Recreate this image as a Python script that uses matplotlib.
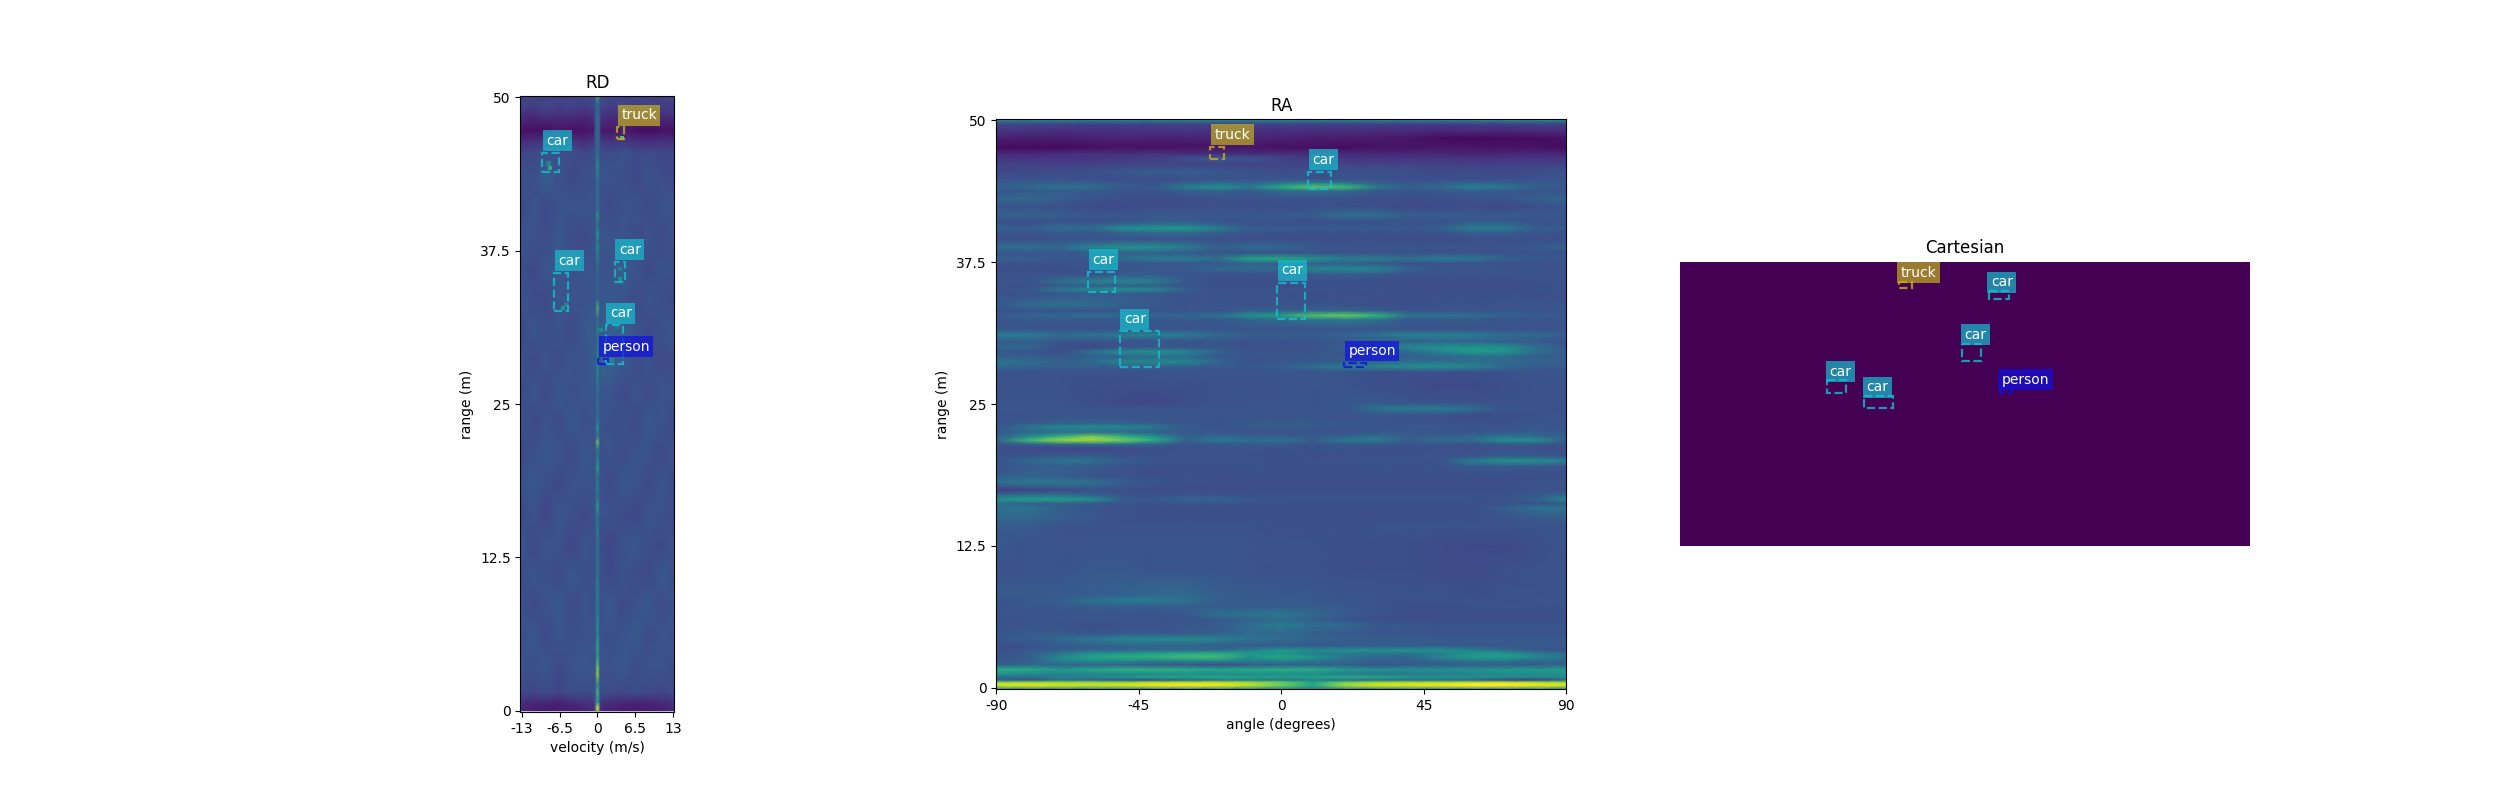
import numpy as np
import matplotlib
matplotlib.use('Agg')
import matplotlib.pyplot as plt
from matplotlib.patches import Rectangle

# colours of the classes
class_colors = {'car': '#17becf', 'truck': '#c4b01e', 'person': '#1010e0'}

# ---- RD view (levels in percent of the colour scale)
rd_velocity = [-13.2, -11, -8.8, -6.6, -4.4, -2.2, 0, 2.2, 4.4, 6.6, 8.8, 11, 13.2]
rd_range = [0, 0.6, 1.5, 3.5, 6, 8.5, 11, 13.5, 16, 18.5, 21, 23.5, 26,
            28.5, 31, 33.5, 36, 38.5, 41, 43.5, 45.5, 46.5, 47.3, 48.5, 49.3, 50.1]
rd_background = [
    [12, 8, 6, 8, 7, 10, 12, 9, 7, 8, 7, 8, 12],
    [14, 10, 11, 9, 12, 14, 15, 12, 11, 9, 10, 11, 14],
    [23, 21, 23, 20, 24, 23, 24, 23, 21, 24, 22, 21, 23],
    [26, 24, 27, 22, 25, 27, 25, 25, 27, 23, 26, 25, 24],
    [24, 27, 22, 26, 24, 25, 26, 24, 26, 28, 23, 26, 25],
    [26, 22, 25, 28, 22, 26, 24, 27, 22, 25, 27, 23, 26],
    [23, 26, 24, 22, 27, 24, 25, 22, 26, 23, 22, 27, 24],
    [27, 22, 26, 25, 21, 26, 24, 21, 25, 27, 24, 22, 26],
    [22, 25, 21, 27, 24, 22, 25, 25, 23, 21, 26, 25, 22],
    [25, 27, 24, 22, 26, 25, 26, 22, 27, 25, 22, 26, 23],
    [22, 24, 27, 25, 22, 27, 24, 26, 23, 26, 25, 22, 26],
    [26, 22, 25, 23, 27, 24, 26, 24, 25, 22, 27, 25, 22],
    [23, 26, 22, 27, 24, 26, 27, 26, 22, 26, 23, 26, 25],
    [25, 22, 26, 23, 26, 25, 31, 31, 28, 23, 25, 22, 24],
    [22, 26, 24, 25, 22, 27, 29, 29, 30, 26, 22, 25, 26],
    [26, 23, 22, 26, 26, 25, 27, 27, 25, 23, 26, 24, 22],
    [24, 22, 26, 28, 25, 26, 26, 25, 29, 26, 22, 25, 24],
    [26, 25, 23, 27, 23, 22, 26, 26, 25, 23, 26, 22, 25],
    [22, 26, 22, 25, 26, 25, 25, 22, 26, 25, 22, 25, 26],
    [25, 23, 29, 25, 22, 24, 26, 25, 24, 22, 26, 23, 22],
    [21, 22, 25, 23, 24, 21, 24, 23, 25, 22, 23, 21, 22],
    [12, 13, 14, 13, 15, 12, 16, 14, 15, 13, 12, 13, 12],
    [4, 5, 3, 6, 4, 5, 8, 6, 7, 4, 3, 5, 4],
    [14, 12, 15, 13, 14, 12, 16, 13, 15, 12, 14, 13, 15],
    [20, 18, 21, 19, 21, 18, 22, 19, 21, 18, 20, 19, 18],
    [19, 21, 18, 20, 19, 21, 23, 20, 18, 21, 19, 18, 20],
]
rd_line_range = [0, 0.3, 0.7, 1.1, 1.5, 2.1, 2.9, 3.7, 4.5, 5.4, 6.2, 6.9, 8, 9.1, 10.7,
                 12.4, 13.4, 14.8, 15.8, 16.7, 17.4, 18.2, 19, 19.8, 20.8, 21.4, 21.9,
                 22.4, 23, 23.7, 24.6, 25.6, 27, 28.6, 30, 31, 32, 32.8, 33.5, 35, 36.5,
                 37.8, 38.3, 38.8, 39.6, 40.4, 41, 41.6, 43, 44.3, 45.5, 47, 48.5, 49.5, 50.1]
rd_line_level = [86, 100, 60, 62, 72, 50, 84, 76, 56, 64, 48, 54, 44, 46, 44,
                 38, 36, 46, 38, 60, 38, 50, 36, 60, 38, 46, 78,
                 38, 58, 36, 40, 34, 44, 50, 36, 48, 34, 70, 34, 32, 36,
                 54, 38, 60, 36, 56, 34, 40, 34, 54, 36, 34, 36, 34, 68]
rd_spot_velocity = [-8.2, -5.9, 3.85, 3.85, 4.27, 2.4, 0.6, 3.4, -8.4, -5.4]
rd_spot_range = [44.2, 32.8, 35.2, 36.0, 46.7, 28.6, 31.0, 31.3, 44.6, 33.1]
rd_spot_level = [62, 54, 50, 42, 70, 44, 46, 36, 44, 44]

rd_x0 = [3.35, -9.5, -7.4, 2.95, 1.4, 0.14]
rd_x1 = [4.5, -6.67, -5.1, 4.78, 4.44, 1.86]
rd_y0 = [46.6, 43.87, 32.57, 34.96, 28.27, 28.24]
rd_y1 = [47.56, 45.45, 35.7, 36.6, 31.4, 28.66]
rd_names = ['truck', 'car', 'car', 'car', 'car', 'person']

# ---- RA view
ra_angle = [-90, -80, -70, -60, -50, -40, -30, -20, -10, 0, 10, 20, 30, 40, 50, 60, 70, 80, 90]
ra_range = [50.1, 49.9, 49.6, 49.1, 48.4, 47.6, 47.0, 46.65, 46.1, 45.5, 44.8, 44.45, 44.1, 43.75, 43.1,
            42.4, 41.6, 41.1, 40.8, 40.45, 40.1, 39.5, 38.8, 38.3, 37.8, 37.35, 36.9, 36.4,
            35.8, 35.4, 35.1, 34.7, 33.7, 33.2, 32.8, 32.4, 31.6, 31.1, 30.5, 30.0, 29.6, 29.15,
            28.7, 28.3, 27.8, 26.5, 25.1, 24.6, 24.0, 23.3, 23.0, 22.5, 22.1, 21.8, 21.45,
            21.1, 20.4, 20.0, 19.5, 18.6, 18.1, 17.4, 16.95, 16.6, 16.2, 15.9, 15.0, 14.2,
            12.5, 10.5, 8.1, 7.7, 7.2, 6.5, 6.0, 5.5, 4.8, 4.3, 3.7, 3.3, 3.0, 2.7,
            2.3, 2.0, 1.6, 1.2, 0.9, 0.65, 0.5, 0.35, 0.15, -0.1]
ra_level = [
    [62, 62, 62, 62, 62, 62, 62, 62, 62, 62, 62, 62, 62, 62, 62, 64, 66, 66, 66],
    [36, 36, 36, 36, 36, 36, 36, 36, 36, 36, 36, 36, 36, 36, 36, 36, 36, 36, 36],
    [20, 20, 19, 18, 18, 18, 18, 18, 18, 18, 18, 18, 18, 17, 17, 17, 17, 18, 18],
    [16, 15, 14, 14, 15, 15, 16, 15, 15, 14, 14, 14, 13, 13, 12, 13, 12, 13, 14],
    [9, 8, 8, 9, 10, 9, 9, 10, 10, 9, 8, 8, 7, 6, 3, 2, 3, 3, 5],
    [3, 3, 2, 4, 5, 4, 5, 5, 6, 4, 4, 3, 5, 5, 6, 6, 5, 5, 3],
    [12, 12, 14, 15, 14, 16, 14, 14, 13, 14, 13, 13, 12, 12, 12, 10, 11, 12, 11],
    [15, 15, 15, 15, 17, 18, 24, 27, 26, 20, 17, 15, 15, 15, 15, 15, 15, 15, 15],
    [20, 20, 19, 20, 20, 20, 20, 21, 20, 20, 21, 20, 20, 20, 20, 19, 19, 20, 20],
    [21, 22, 23, 24, 27, 29, 29, 27, 25, 23, 26, 24, 24, 24, 22, 23, 22, 23, 25],
    [25, 26, 25, 24, 24, 24, 25, 25, 26, 26, 26, 25, 25, 24, 24, 24, 24, 25, 25],
    [28, 30, 30, 30, 27, 26, 32, 36, 32, 40, 44, 40, 30, 27, 29, 32, 30, 28, 27],
    [31, 33, 38, 36, 28, 28, 42, 50, 40, 62, 74, 68, 40, 30, 34, 44, 40, 30, 28],
    [26, 27, 29, 28, 26, 26, 30, 32, 28, 34, 36, 33, 28, 26, 27, 30, 28, 26, 26],
    [33, 34, 30, 26, 24, 23, 24, 25, 25, 25, 25, 25, 24, 24, 24, 25, 26, 30, 33],
    [26, 25, 24, 23, 22, 23, 24, 24, 24, 23, 24, 24, 24, 22, 22, 23, 22, 24, 26],
    [31, 32, 30, 27, 27, 28, 28, 27, 27, 28, 30, 36, 36, 30, 29, 28, 28, 28, 27],
    [25, 24, 25, 25, 26, 28, 28, 26, 25, 25, 24, 25, 25, 25, 25, 28, 27, 25, 25],
    [27, 26, 30, 29, 34, 38, 38, 32, 26, 26, 26, 26, 26, 26, 27, 34, 33, 27, 26],
    [31, 30, 36, 34, 50, 53, 54, 42, 29, 29, 28, 28, 28, 28, 30, 42, 42, 30, 29],
    [27, 26, 28, 27, 32, 34, 34, 30, 26, 25, 25, 25, 25, 25, 26, 30, 30, 26, 25],
    [24, 24, 25, 25, 25, 25, 25, 25, 24, 24, 24, 24, 24, 23, 23, 24, 24, 24, 24],
    [36, 37, 34, 46, 50, 50, 42, 30, 34, 33, 28, 26, 26, 26, 27, 26, 26, 28, 32],
    [26, 26, 26, 30, 30, 30, 28, 26, 26, 26, 26, 25, 25, 25, 25, 25, 25, 25, 25],
    [31, 31, 28, 27, 36, 42, 42, 36, 58, 60, 50, 42, 42, 36, 42, 40, 32, 28, 27],
    [25, 25, 25, 25, 26, 27, 27, 27, 32, 30, 30, 30, 28, 25, 25, 25, 25, 25, 25],
    [24, 24, 24, 26, 27, 27, 28, 34, 34, 34, 46, 48, 46, 32, 26, 26, 26, 25, 25],
    [25, 25, 25, 25, 28, 28, 26, 25, 25, 25, 28, 28, 28, 25, 25, 25, 25, 25, 25],
    [26, 26, 36, 44, 46, 42, 28, 24, 24, 25, 25, 25, 24, 24, 24, 24, 24, 25, 25],
    [25, 25, 28, 30, 30, 30, 26, 24, 24, 24, 24, 24, 24, 24, 23, 23, 23, 24, 25],
    [26, 26, 40, 48, 50, 46, 30, 25, 25, 25, 25, 25, 25, 24, 24, 24, 24, 25, 25],
    [25, 25, 27, 28, 29, 27, 26, 25, 25, 25, 24, 24, 24, 24, 24, 24, 24, 24, 24],
    [28, 34, 36, 35, 30, 27, 26, 26, 25, 25, 25, 25, 24, 24, 25, 25, 26, 26, 26],
    [25, 26, 26, 26, 26, 26, 26, 26, 30, 30, 32, 32, 30, 26, 26, 26, 26, 26, 26],
    [30, 32, 34, 36, 34, 32, 34, 36, 50, 56, 72, 76, 66, 38, 38, 36, 32, 30, 28],
    [26, 27, 27, 27, 27, 27, 27, 28, 32, 34, 38, 40, 36, 28, 28, 28, 26, 26, 26],
    [27, 26, 25, 25, 26, 26, 26, 26, 26, 26, 26, 26, 26, 25, 25, 25, 25, 25, 26],
    [42, 42, 36, 38, 42, 44, 42, 34, 30, 30, 30, 32, 36, 44, 44, 42, 36, 34, 30],
    [28, 30, 26, 26, 26, 26, 26, 26, 25, 25, 26, 28, 30, 30, 32, 32, 30, 28, 26],
    [32, 34, 24, 22, 26, 28, 26, 26, 25, 25, 26, 30, 36, 48, 50, 52, 50, 36, 28],
    [28, 26, 24, 36, 48, 50, 46, 32, 26, 26, 26, 28, 32, 34, 46, 54, 52, 36, 30],
    [30, 30, 28, 30, 32, 34, 34, 28, 26, 26, 27, 28, 30, 30, 32, 34, 34, 30, 28],
    [38, 36, 30, 34, 46, 48, 46, 32, 26, 27, 28, 30, 32, 36, 36, 36, 34, 32, 30],
    [34, 32, 30, 30, 30, 30, 30, 28, 28, 30, 36, 42, 46, 50, 50, 46, 34, 30, 28],
    [26, 25, 25, 25, 25, 26, 26, 26, 26, 26, 26, 26, 24, 24, 24, 24, 25, 26, 26],
    [25, 25, 25, 24, 24, 24, 24, 25, 25, 26, 26, 26, 24, 24, 22, 22, 24, 25, 25],
    [26, 26, 26, 24, 22, 21, 24, 25, 26, 26, 26, 27, 28, 26, 25, 25, 25, 25, 25],
    [26, 26, 26, 26, 26, 26, 26, 26, 26, 26, 26, 26, 38, 42, 42, 36, 26, 26, 25],
    [25, 25, 26, 26, 26, 26, 26, 26, 26, 26, 26, 26, 26, 26, 25, 23, 24, 25, 25],
    [26, 28, 30, 30, 30, 28, 26, 26, 28, 28, 28, 27, 27, 26, 25, 26, 25, 26, 26],
    [26, 38, 46, 48, 46, 40, 28, 26, 28, 30, 28, 26, 26, 28, 28, 26, 26, 28, 26],
    [28, 34, 36, 36, 34, 30, 27, 27, 26, 26, 26, 26, 27, 27, 26, 26, 27, 28, 28],
    [30, 48, 66, 80, 66, 52, 32, 34, 30, 30, 28, 32, 36, 30, 30, 34, 40, 36, 30],
    [32, 68, 84, 86, 78, 62, 30, 42, 36, 38, 30, 42, 42, 30, 36, 34, 50, 50, 30],
    [26, 32, 36, 38, 36, 32, 26, 28, 28, 28, 26, 28, 28, 26, 26, 26, 28, 28, 26],
    [24, 22, 20, 20, 22, 24, 25, 25, 25, 25, 25, 25, 24, 24, 25, 24, 25, 24, 24],
    [25, 26, 28, 28, 26, 25, 25, 25, 25, 24, 24, 24, 24, 25, 25, 26, 30, 28, 26],
    [26, 34, 38, 38, 30, 26, 25, 26, 25, 24, 25, 25, 25, 25, 26, 42, 50, 50, 44],
    [26, 28, 30, 28, 26, 24, 24, 24, 25, 24, 24, 24, 25, 24, 25, 28, 28, 27, 26],
    [30, 32, 30, 26, 25, 24, 24, 24, 24, 24, 24, 24, 24, 24, 24, 24, 24, 24, 24],
    [38, 40, 40, 38, 30, 26, 25, 24, 24, 24, 24, 24, 24, 24, 24, 24, 24, 25, 25],
    [18, 20, 22, 24, 24, 24, 23, 23, 24, 24, 24, 24, 24, 24, 24, 24, 24, 25, 25],
    [34, 38, 38, 32, 26, 25, 26, 26, 25, 25, 25, 25, 25, 25, 25, 25, 25, 28, 34],
    [50, 56, 56, 50, 30, 28, 33, 33, 28, 25, 25, 25, 25, 25, 25, 25, 26, 30, 46],
    [36, 30, 30, 28, 26, 26, 26, 26, 25, 24, 24, 24, 24, 24, 24, 24, 24, 26, 28],
    [36, 38, 30, 26, 25, 24, 24, 24, 24, 24, 24, 24, 24, 24, 24, 24, 30, 38, 38],
    [34, 33, 30, 27, 25, 24, 24, 24, 24, 24, 24, 24, 24, 24, 24, 24, 26, 28, 30],
    [28, 28, 26, 25, 25, 25, 25, 25, 25, 24, 24, 24, 25, 25, 25, 25, 25, 25, 26],
    [27, 26, 26, 26, 26, 26, 26, 26, 26, 25, 25, 24, 24, 24, 23, 22, 22, 24, 26],
    [25, 26, 26, 27, 27, 26, 26, 26, 26, 25, 25, 24, 24, 24, 23, 23, 24, 25, 25],
    [28, 28, 28, 30, 32, 34, 34, 30, 28, 28, 27, 26, 26, 25, 25, 24, 25, 25, 26],
    [26, 28, 30, 38, 42, 42, 38, 30, 28, 28, 28, 26, 26, 25, 25, 25, 25, 26, 26],
    [26, 27, 28, 30, 30, 30, 30, 28, 28, 28, 28, 28, 26, 24, 24, 25, 25, 25, 25],
    [26, 26, 26, 26, 26, 26, 28, 36, 38, 40, 34, 28, 26, 24, 24, 24, 24, 24, 25],
    [25, 26, 26, 26, 26, 26, 26, 28, 32, 34, 30, 26, 24, 24, 24, 24, 24, 24, 24],
    [26, 26, 26, 24, 25, 26, 27, 28, 36, 42, 36, 34, 28, 27, 26, 26, 26, 26, 26],
    [26, 28, 28, 26, 28, 28, 28, 30, 34, 34, 30, 28, 26, 26, 26, 26, 26, 26, 26],
    [28, 30, 34, 40, 46, 48, 48, 44, 38, 36, 32, 30, 30, 30, 28, 28, 28, 28, 28],
    [24, 24, 28, 30, 32, 32, 32, 30, 28, 28, 28, 28, 28, 28, 28, 27, 27, 27, 27],
    [24, 28, 30, 32, 32, 34, 34, 34, 42, 54, 48, 50, 50, 52, 50, 44, 34, 28, 26],
    [26, 30, 38, 52, 54, 58, 62, 62, 54, 52, 42, 42, 40, 38, 42, 52, 54, 42, 36],
    [26, 28, 48, 58, 62, 64, 68, 68, 50, 60, 52, 38, 34, 32, 46, 54, 56, 48, 38],
    [28, 30, 42, 46, 44, 40, 42, 42, 40, 42, 38, 34, 30, 30, 32, 36, 36, 32, 30],
    [30, 34, 32, 32, 32, 28, 27, 24, 28, 30, 30, 30, 26, 28, 30, 30, 30, 30, 32],
    [62, 62, 54, 60, 64, 64, 62, 60, 62, 62, 62, 54, 50, 50, 50, 50, 54, 54, 56],
    [50, 48, 44, 46, 46, 48, 50, 48, 48, 50, 48, 42, 40, 40, 42, 44, 48, 48, 50],
    [34, 34, 42, 44, 52, 58, 58, 60, 58, 56, 58, 62, 60, 54, 52, 50, 48, 46, 48],
    [30, 26, 36, 30, 22, 20, 28, 34, 38, 36, 42, 32, 32, 32, 32, 30, 18, 16, 32],
    [74, 76, 78, 78, 76, 80, 82, 84, 80, 74, 56, 72, 78, 80, 80, 82, 82, 80, 78],
    [92, 94, 92, 90, 92, 96, 98, 96, 90, 78, 60, 84, 92, 94, 96, 100, 100, 96, 92],
    [92, 94, 92, 90, 92, 96, 98, 96, 88, 76, 58, 84, 92, 94, 96, 100, 100, 96, 92],
    [50, 50, 48, 48, 50, 50, 50, 50, 48, 46, 42, 46, 48, 50, 50, 50, 50, 50, 50],
]

ra_x0 = [-22.4, 8.5, -61, -1.3, -51, 19.9]
ra_x1 = [-18.1, 15.8, -52.5, 7.6, -38.7, 26.7]
ra_y0 = [46.6, 43.96, 34.85, 32.5, 28.3, 28.3]
ra_y1 = [47.65, 45.45, 36.65, 35.7, 31.4, 28.6]
ra_names = ['truck', 'car', 'car', 'car', 'car', 'person']

# ---- Cartesian view, box corners in image pixels
cart_x0 = [195.9, 277, 252.9, 131.6, 165, 286.6]
cart_x1 = [208.2, 294.8, 270, 148.8, 191, 297.6]
cart_y0 = [17.5, 25.9, 73.2, 106.3, 120.5, 113.8]
cart_y1 = [22.9, 33.4, 89, 118, 131, 117.5]
cart_names = ['truck', 'car', 'car', 'car', 'car', 'person']


def draw_boxes(ax, x0, x1, y_low, y_high, names, top, offset):
    # top is the edge of the box the label sits on, offset in points
    for a, b, c, d, t, name in zip(x0, x1, y_low, y_high, top, names):
        col = class_colors[name]
        ax.add_patch(Rectangle((a, c), b - a, d - c, fill=False, edgecolor=col,
                               ls='--', lw=1.6, alpha=0.8))
        ax.annotate(name, (a, t), xytext=offset, textcoords='offset points',
                    color='white', fontsize=10, va='bottom', ha='left',
                    bbox=dict(facecolor=col, alpha=0.7, edgecolor='none', pad=2.5))


fig, axes = plt.subplots(1, 3, figsize=(25, 8))

# RD
ax = axes[0]
ax.pcolormesh(rd_velocity, rd_range, rd_background, shading='gouraud', cmap='viridis', vmin=0, vmax=100)
side = [25] * len(rd_line_level)
ax.pcolormesh([-0.42, 0, 0.42], rd_line_range, np.column_stack([side, rd_line_level, side]),
              shading='gouraud', cmap='viridis', vmin=0, vmax=100)
ax.scatter(rd_spot_velocity, rd_spot_range, c=rd_spot_level, cmap='viridis', vmin=0, vmax=100,
           s=9, marker='s', linewidths=0)
ax.set_xlim(-13.2, 13.2)
ax.set_ylim(-0.1, 50.1)
ax.set_box_aspect(4)
draw_boxes(ax, rd_x0, rd_x1, rd_y0, rd_y1, rd_names, rd_y1, (3, 3.7))
ax.set_xticks([-13, -6.5, 0, 6.5, 13])
ax.set_xticklabels(['-13', '-6.5', '0', '6.5', '13'])
ax.set_yticks([0, 12.5, 25, 37.5, 50])
ax.set_yticklabels(['0', '12.5', '25', '37.5', '50'])
ax.set_xlabel('velocity (m/s)')
ax.set_ylabel('range (m)')
ax.set_title('RD')

# RA
ax = axes[1]
ax.pcolormesh(ra_angle, ra_range, ra_level, shading='gouraud', cmap='viridis', vmin=0, vmax=100)
ax.set_xlim(-90, 90)
ax.set_ylim(-0.1, 50.1)
ax.set_box_aspect(1)
draw_boxes(ax, ra_x0, ra_x1, ra_y0, ra_y1, ra_names, ra_y1, (3, 3.7))
ax.set_xticks([-90, -45, 0, 45, 90])
ax.set_xticklabels(['-90', '-45', '0', '45', '90'])
ax.set_yticks([0, 12.5, 25, 37.5, 50])
ax.set_yticklabels(['0', '12.5', '25', '37.5', '50'])
ax.set_xlabel('angle (degrees)')
ax.set_ylabel('range (m)')
ax.set_title('RA')

# Cartesian, the whole image is empty
ax = axes[2]
ax.imshow(np.zeros((256, 512)), cmap='viridis', vmin=0, vmax=1)
draw_boxes(ax, cart_x0, cart_x1, cart_y0, cart_y1, cart_names, cart_y0, (1.4, 1.3))
ax.axis('off')
ax.set_title('Cartesian')

fig.savefig('out.png', dpi=100)
